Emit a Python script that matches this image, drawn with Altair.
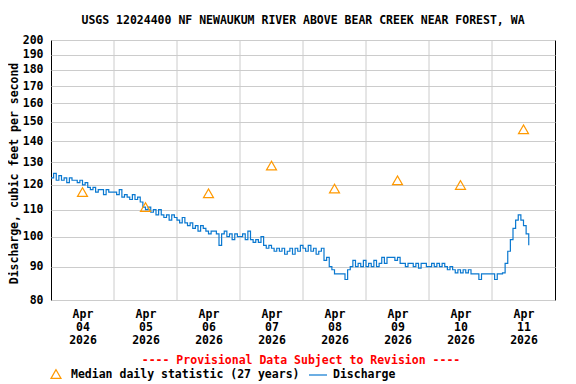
import altair as alt
import pandas as pd

FONT = "DejaVu Sans Mono"
FS = 11.5
TITLE = "USGS 12024400 NF NEWAUKUM RIVER ABOVE BEAR CREEK NEAR FOREST, WA"
Y_TITLE = "Discharge, cubic feet per second"
PROVISIONAL = "---- Provisional Data Subject to Revision ----"
LEG_MEDIAN = "Median daily statistic (27 years)"
LEG_Q = "Discharge"

Y_TICKS = [80, 90, 100, 110, 120, 130, 140, 150, 160, 170, 180, 190, 200]
DAYS = [4, 5, 6, 7, 8, 9, 10, 11]
MEDIAN = [117, 111, 116.5, 128.5, 118.5, 122, 120, 146]

# hourly discharge, starting Apr 04 00:00
Q_APR04 = [123, 125, 122, 124, 122, 123, 121, 123, 122, 122, 121, 122, 120, 121, 119, 118, 119, 117, 118, 118, 116, 118, 117, 117]
Q_APR05 = [117, 116, 118, 115, 116, 115, 114, 116, 114, 115, 113, 111, 110, 111, 109, 110, 108, 110, 108, 107, 108, 106, 108, 107]
Q_APR06 = [106, 105, 107, 105, 104, 105, 103, 104, 102, 104, 103, 102, 101, 102, 102, 101, 97, 101, 102, 100, 101, 99, 101, 100]
Q_APR07 = [100, 101, 99, 102, 99, 98, 99, 98, 100, 97, 96, 97, 96, 95, 96, 95, 96, 94, 95, 96, 94, 96, 95, 97]
Q_APR08 = [96, 95, 97, 95, 96, 94, 95, 96, 92, 93, 90, 89, 87.7, 87.7, 87.7, 87.7, 86, 89, 90, 92, 90, 91, 90, 92]
Q_APR09 = [90, 91, 90, 92, 90, 91, 93, 91, 93, 93, 93, 92, 93, 91, 91, 90, 91, 91, 90, 91, 89.5, 91, 91, 90]
Q_APR10 = [90, 91, 90, 91, 90, 91, 90, 89, 90, 89, 88, 89, 88, 89, 88, 89, 87.7, 87.7, 87.7, 86, 87.7, 87.7, 87.7, 87.7]
Q_APR11 = [87.7, 86, 87.7, 87.7, 88, 91, 95, 99, 103, 106, 108, 106, 104, 101, 97]

q_all = Q_APR04 + Q_APR05 + Q_APR06 + Q_APR07 + Q_APR08 + Q_APR09 + Q_APR10 + Q_APR11
q_df = pd.DataFrame({
    "time": pd.date_range("2026-04-04 00:00", periods=len(q_all), freq="h"),
    "q": q_all,
})
med_df = pd.DataFrame({
    "time": [pd.Timestamp(2026, 4, d, 12) for d in DAYS],
    "q": MEDIAN,
})
grid_df = pd.DataFrame({"time": [pd.Timestamp(2026, 4, d) for d in DAYS[1:]]})
one = pd.DataFrame({"a": [0]})

x_scale = alt.Scale(domain=[alt.DateTime(year=2026, month=4, date=4),
                            alt.DateTime(year=2026, month=4, date=12)])
y_scale = alt.Scale(type="log", domain=[80, 200], nice=False)

x_axis = alt.Axis(
    values=[alt.DateTime(year=2026, month=4, date=d, hours=12) for d in DAYS],
    labelExpr="[timeFormat(datum.value, '%b'), timeFormat(datum.value, '%d'), timeFormat(datum.value, '%Y')]",
    labelBaseline="top", labelPadding=8, labelLineHeight=13, labelFlush=False,
    labelOverlap=False, grid=False, title=None,
)
y_axis = alt.Axis(
    values=Y_TICKS, grid=True, labelPadding=8, title=Y_TITLE,
    titleX=-37, titleY=133, titleAngle=270, titleAlign="center", titleBaseline="middle",
)

vgrid = alt.Chart(grid_df).mark_rule(color="#cccccc", strokeWidth=1).encode(
    x=alt.X("time:T", scale=x_scale, axis=x_axis)
)
line = alt.Chart(q_df).mark_line(color="#0A78D0", strokeWidth=1.2, interpolate="step-after").encode(
    x=alt.X("time:T", scale=x_scale, axis=x_axis),
    y=alt.Y("q:Q", scale=y_scale, axis=y_axis),
)
pts = alt.Chart(med_df).mark_point(shape="triangle-up", size=100, color="#FF9900",
                                   filled=False, strokeWidth=1.2, opacity=1).encode(
    x=alt.X("time:T", scale=x_scale, axis=x_axis),
    y=alt.Y("q:Q", scale=y_scale, axis=y_axis),
)

txt = dict(font=FONT, fontSize=FS, fontWeight="bold")
title = alt.Chart(one).mark_text(color="black", align="center", baseline="alphabetic", text=TITLE, **txt).encode(
    x=alt.value(252), y=alt.value(-16))
prov = alt.Chart(one).mark_text(color="#FF0000", align="center", baseline="middle", text=PROVISIONAL, **txt).encode(
    x=alt.value(250), y=alt.value(321))
leg_tri = alt.Chart(one).mark_point(shape="triangle-up", size=100, color="#FF9900", filled=False,
                                    strokeWidth=1.2, opacity=1).encode(x=alt.value(5), y=alt.value(334))
leg_t1 = alt.Chart(one).mark_text(color="black", align="left", baseline="middle", text=LEG_MEDIAN, **txt).encode(
    x=alt.value(20), y=alt.value(335))
leg_line = alt.Chart(one).mark_rule(color="#0A78D0", strokeWidth=1.2).encode(
    x=alt.value(258), x2=alt.value(276), y=alt.value(335))
leg_t2 = alt.Chart(one).mark_text(color="black", align="left", baseline="middle", text=LEG_Q, **txt).encode(
    x=alt.value(282), y=alt.value(335))

chart = alt.layer(vgrid, line, pts, title, prov, leg_tri, leg_t1, leg_line, leg_t2).properties(
    width=504, height=260,
    padding={"left": 43, "top": 32, "right": 13, "bottom": 82},
    autosize=alt.AutoSizeParams(type="none"),
).configure_axis(
    labelFont=FONT, labelFontSize=FS, labelFontWeight="bold", labelColor="black",
    titleFont=FONT, titleFontSize=FS, titleFontWeight="bold", titleColor="black",
    gridColor="#cccccc", gridWidth=1, ticks=False, domain=False,
).configure_view(stroke="black", strokeWidth=1)

chart.save("out.html", embed_options={"renderer": "svg", "actions": False})
